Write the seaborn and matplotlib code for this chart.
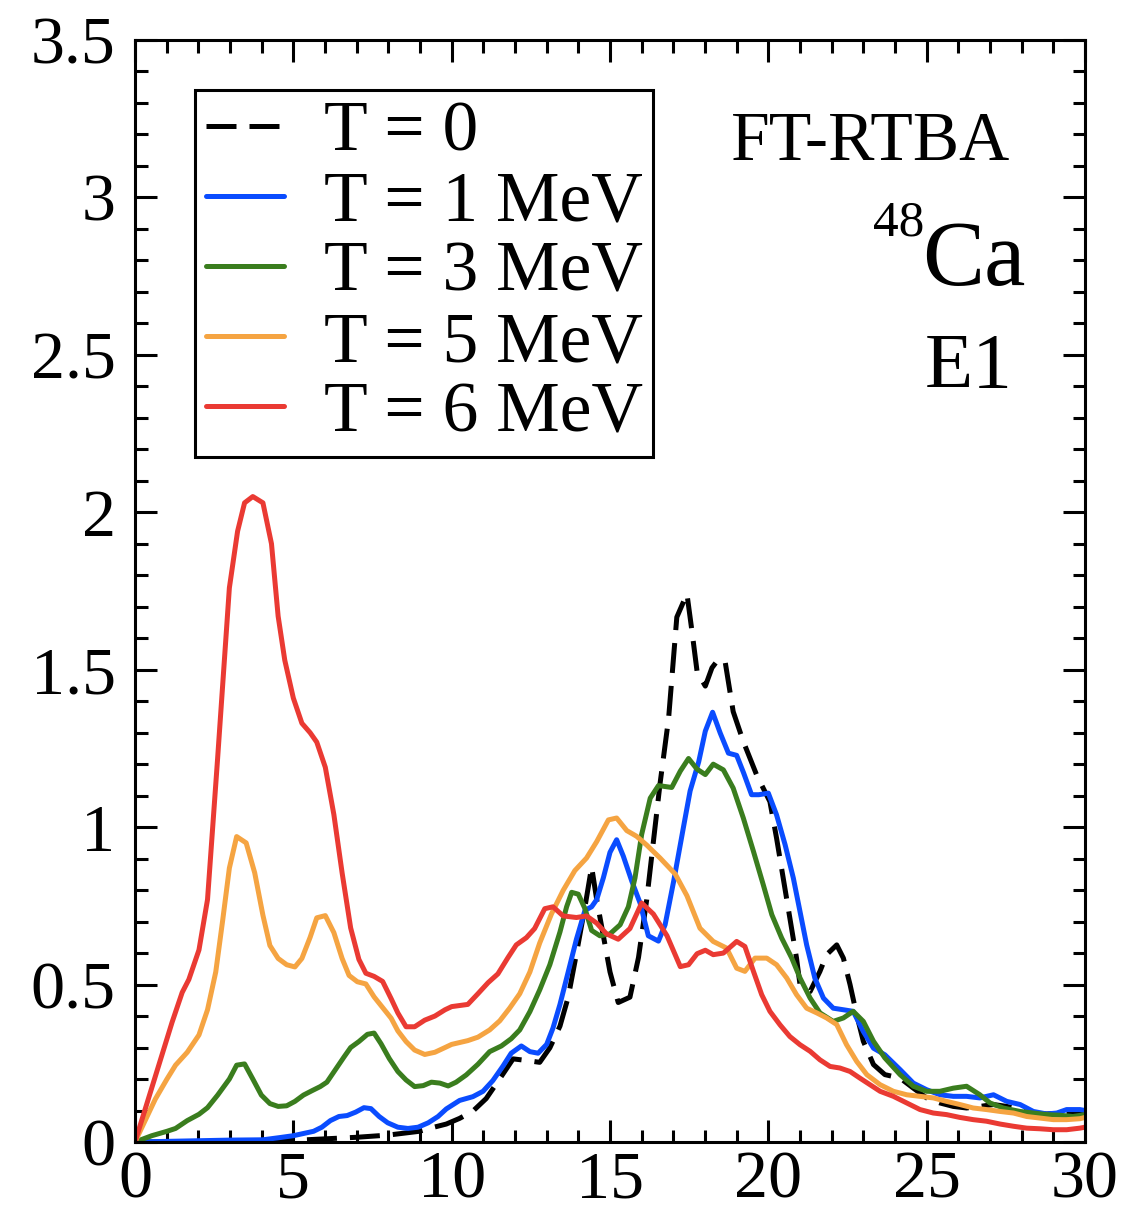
import numpy as np
import pandas as pd
import matplotlib
matplotlib.use("Agg")
import matplotlib.pyplot as plt
from matplotlib.ticker import MultipleLocator, FormatStrFormatter
import seaborn as sns

# strength function of 48Ca E1
e_t0 = [0, 2, 4, 5, 6, 7, 8, 8.98, 9.40, 9.83, 10.25, 10.67, 11.09, 11.52, 11.94, 12.36, 12.78, 13.10,
        13.42, 13.68, 13.94, 14.21, 14.42, 14.58, 14.79, 15.0, 15.26, 15.63, 15.90, 16.16, 16.37, 16.58,
        16.85, 17.11, 17.43, 17.59, 17.75, 18.01, 18.22, 18.43, 18.64, 18.89, 19.21, 19.63, 20.05, 20.26,
        20.47, 20.68, 20.89, 21.0, 21.32, 21.63, 21.84, 22.16, 22.37, 22.58, 22.79, 23.0, 23.32, 23.68,
        24.16, 24.58, 25.0, 25.42, 25.84, 26.26, 26.68, 27.11, 27.53, 27.95, 28.37, 28.79, 29.21, 29.63, 30.0]
s_t0 = [0, 0.0, 0.002, 0.005, 0.01, 0.015, 0.022, 0.034, 0.046, 0.057, 0.075, 0.098, 0.138, 0.201, 0.264,
        0.259, 0.253, 0.299, 0.368, 0.460, 0.598, 0.747, 0.874, 0.770, 0.655, 0.540, 0.443, 0.460, 0.586,
        0.770, 0.954, 1.138, 1.345, 1.667, 1.741, 1.621, 1.494, 1.448, 1.506, 1.534, 1.523, 1.367, 1.272,
        1.166, 1.081, 0.965, 0.838, 0.711, 0.584, 0.50, 0.478, 0.542, 0.595, 0.626, 0.584, 0.50, 0.404,
        0.32, 0.246, 0.214, 0.203, 0.171, 0.140, 0.124, 0.113, 0.108, 0.113, 0.119, 0.113, 0.103, 0.092,
        0.089, 0.092, 0.097, 0.097]

e_t1 = [0, 1, 2, 3, 4.04, 4.57, 5.0, 5.32, 5.64, 5.90, 6.17, 6.44, 6.70, 6.97, 7.23, 7.45, 7.71, 7.98,
        8.30, 8.62, 8.94, 9.26, 9.57, 9.83, 10.25, 10.67, 10.99, 11.30, 11.62, 11.88, 12.20, 12.47, 12.73,
        13.0, 13.20, 13.42, 13.68, 13.94, 14.21, 14.42, 14.58, 14.79, 15.0, 15.21, 15.42, 15.69, 15.95,
        16.21, 16.53, 16.74, 17.01, 17.32, 17.53, 17.80, 18.01, 18.24, 18.48, 18.74, 19.0, 19.22, 19.47,
        19.70, 20.0, 20.26, 20.53, 20.79, 21.0, 21.21, 21.47, 21.74, 22.05, 22.37, 22.68, 23.0, 23.32,
        23.68, 24.16, 24.58, 25.0, 25.42, 25.84, 26.26, 26.68, 27.11, 27.53, 27.95, 28.37, 28.79, 29.11,
        29.42, 29.84, 30.0]
s_t1 = [0, 0.002, 0.004, 0.006, 0.007, 0.014, 0.02, 0.027, 0.034, 0.047, 0.068, 0.081, 0.084, 0.095,
        0.109, 0.106, 0.081, 0.061, 0.047, 0.043, 0.047, 0.061, 0.081, 0.105, 0.132, 0.144, 0.161, 0.195,
        0.241, 0.282, 0.305, 0.287, 0.282, 0.310, 0.362, 0.437, 0.540, 0.644, 0.736, 0.747, 0.770, 0.839,
        0.920, 0.960, 0.908, 0.828, 0.759, 0.655, 0.638, 0.690, 0.828, 1.0, 1.115, 1.207, 1.305, 1.365,
        1.299, 1.235, 1.228, 1.172, 1.103, 1.103, 1.108, 1.039, 0.944, 0.838, 0.732, 0.626, 0.52, 0.457,
        0.425, 0.42, 0.415, 0.351, 0.298, 0.277, 0.230, 0.187, 0.166, 0.150, 0.145, 0.145, 0.140, 0.150,
        0.129, 0.119, 0.097, 0.089, 0.092, 0.103, 0.103, 0.10]

e_t3 = [0, 0.53, 1.01, 1.28, 1.65, 2.02, 2.29, 2.61, 2.98, 3.21, 3.46, 3.72, 3.99, 4.26, 4.52, 4.79, 5.05,
        5.32, 5.59, 5.85, 6.06, 6.33, 6.60, 6.81, 7.07, 7.34, 7.55, 7.77, 8.03, 8.30, 8.56, 8.83, 9.10,
        9.36, 9.63, 9.89, 10.14, 10.46, 10.83, 11.20, 11.57, 11.88, 12.15, 12.47, 12.78, 13.10, 13.42,
        13.63, 13.79, 14.0, 14.21, 14.42, 14.68, 15.0, 15.32, 15.58, 15.79, 16.0, 16.27, 16.53, 16.95,
        17.22, 17.48, 17.75, 18.01, 18.26, 18.58, 18.89, 19.21, 19.53, 19.84, 20.11, 20.42, 20.74, 21.0,
        21.32, 21.63, 22.05, 22.37, 22.68, 23.0, 23.32, 23.68, 24.16, 24.58, 25.0, 25.42, 25.84, 26.26,
        26.68, 27.0, 27.42, 27.95, 28.37, 28.79, 29.21, 29.63, 30.0]
s_t3 = [0, 0.02, 0.034, 0.043, 0.068, 0.088, 0.109, 0.149, 0.20, 0.244, 0.248, 0.20, 0.149, 0.122, 0.113,
        0.115, 0.129, 0.149, 0.163, 0.176, 0.19, 0.23, 0.27, 0.30, 0.319, 0.342, 0.346, 0.312, 0.265,
        0.224, 0.197, 0.176, 0.179, 0.19, 0.187, 0.178, 0.190, 0.213, 0.247, 0.287, 0.305, 0.328, 0.356,
        0.414, 0.483, 0.563, 0.667, 0.747, 0.793, 0.787, 0.741, 0.672, 0.655, 0.661, 0.690, 0.747, 0.839,
        0.977, 1.092, 1.132, 1.126, 1.178, 1.218, 1.184, 1.167, 1.200, 1.182, 1.124, 1.029, 0.923, 0.817,
        0.722, 0.648, 0.584, 0.521, 0.457, 0.41, 0.383, 0.394, 0.415, 0.383, 0.32, 0.267, 0.214, 0.177,
        0.161, 0.161, 0.171, 0.177, 0.150, 0.124, 0.108, 0.097, 0.092, 0.087, 0.085, 0.081, 0.087]

e_t5 = [0, 0.64, 1.01, 1.28, 1.65, 2.02, 2.29, 2.55, 2.77, 2.98, 3.21, 3.51, 3.78, 4.04, 4.26, 4.52, 4.79,
        5.05, 5.27, 5.53, 5.74, 6.01, 6.28, 6.54, 6.76, 7.02, 7.29, 7.55, 7.82, 8.09, 8.30, 8.56, 8.83,
        9.15, 9.47, 9.79, 10.0, 10.51, 10.83, 11.20, 11.52, 11.83, 12.15, 12.47, 12.78, 13.15, 13.52,
        13.89, 14.26, 14.58, 14.95, 15.21, 15.53, 15.84, 16.16, 16.58, 17.06, 17.43, 17.84, 18.26, 18.68,
        19.0, 19.26, 19.58, 19.95, 20.26, 20.58, 20.89, 21.21, 21.53, 21.84, 22.16, 22.47, 22.79, 23.11,
        23.53, 23.95, 24.37, 24.79, 25.21, 25.63, 26.05, 26.47, 26.89, 27.32, 27.74, 28.16, 28.58, 29.0,
        29.42, 29.84, 30.0]
s_t5 = [0, 0.136, 0.20, 0.244, 0.285, 0.34, 0.42, 0.54, 0.705, 0.87, 0.97, 0.95, 0.855, 0.72, 0.624,
        0.583, 0.563, 0.556, 0.583, 0.65, 0.712, 0.719, 0.665, 0.583, 0.529, 0.509, 0.502, 0.461, 0.427,
        0.393, 0.353, 0.319, 0.292, 0.278, 0.285, 0.30, 0.31, 0.322, 0.333, 0.356, 0.385, 0.425, 0.471,
        0.54, 0.632, 0.724, 0.799, 0.862, 0.902, 0.954, 1.023, 1.029, 0.989, 0.971, 0.943, 0.902, 0.851,
        0.782, 0.679, 0.637, 0.616, 0.552, 0.542, 0.584, 0.584, 0.563, 0.521, 0.468, 0.425, 0.41, 0.394,
        0.373, 0.309, 0.256, 0.214, 0.182, 0.161, 0.150, 0.145, 0.140, 0.129, 0.119, 0.108, 0.103, 0.097,
        0.092, 0.081, 0.076, 0.071, 0.071, 0.074, 0.078]

e_t6 = [0, 1.17, 1.49, 1.70, 2.02, 2.29, 2.61, 2.98, 3.24, 3.46, 3.72, 4.04, 4.31, 4.52, 4.73, 5.0, 5.27,
        5.53, 5.74, 6.01, 6.28, 6.54, 6.81, 7.07, 7.29, 7.55, 7.82, 8.09, 8.30, 8.56, 8.83, 9.15, 9.47,
        9.79, 10.0, 10.51, 10.83, 11.15, 11.46, 11.78, 12.04, 12.36, 12.62, 12.94, 13.20, 13.52, 13.94,
        14.26, 14.58, 14.89, 15.26, 15.63, 16.0, 16.37, 16.80, 17.22, 17.48, 17.75, 18.01, 18.26, 18.58,
        19.0, 19.26, 19.53, 19.79, 20.05, 20.37, 20.68, 21.0, 21.32, 21.63, 21.95, 22.26, 22.58, 22.89,
        23.21, 23.53, 23.95, 24.37, 24.79, 25.21, 25.63, 26.05, 26.47, 26.89, 27.32, 27.74, 28.16, 28.58,
        29.0, 29.42, 29.84, 30.0]
s_t6 = [0, 0.38, 0.475, 0.516, 0.61, 0.77, 1.22, 1.76, 1.94, 2.03, 2.05, 2.03, 1.90, 1.67, 1.53, 1.41,
        1.33, 1.30, 1.27, 1.19, 1.04, 0.855, 0.68, 0.58, 0.536, 0.526, 0.51, 0.455, 0.41, 0.366, 0.366,
        0.387, 0.40, 0.42, 0.43, 0.437, 0.471, 0.506, 0.534, 0.586, 0.626, 0.649, 0.678, 0.741, 0.747,
        0.718, 0.713, 0.718, 0.695, 0.661, 0.644, 0.678, 0.759, 0.724, 0.655, 0.557, 0.563, 0.598, 0.609,
        0.595, 0.60, 0.637, 0.621, 0.542, 0.468, 0.415, 0.372, 0.335, 0.309, 0.288, 0.261, 0.240, 0.235,
        0.224, 0.203, 0.182, 0.161, 0.145, 0.124, 0.103, 0.092, 0.087, 0.078, 0.071, 0.066, 0.057, 0.050,
        0.044, 0.042, 0.039, 0.039, 0.044, 0.047]

labels = ["T = 0", "T = 1 MeV", "T = 3 MeV", "T = 5 MeV", "T = 6 MeV"]
colors = ["black", "#0a4cff", "#3a7d1e", "#f5a442", "#ea3a33"]
series = [(e_t0, s_t0), (e_t1, s_t1), (e_t3, s_t3), (e_t5, s_t5), (e_t6, s_t6)]

sns.set_theme(style="ticks")
plt.rcParams['font.family'] = ['Liberation Serif', 'DejaVu Serif']
plt.rcParams['text.color'] = 'black'
plt.rcParams['xtick.color'] = 'black'
plt.rcParams['ytick.color'] = 'black'
plt.rcParams['axes.edgecolor'] = 'black'

fig = plt.figure(figsize=(11.23, 12.17), dpi=100)
ax = fig.add_axes([135 / 1123, 75 / 1217, 950 / 1123, 1102 / 1217])

for (e, s), lab, col in zip(series, labels, colors):
    df = pd.DataFrame({"E": e, "S": s})
    ls = (0, (6, 2.6)) if lab == "T = 0" else "-"
    sns.lineplot(data=df, x="E", y="S", ax=ax, color=col, linewidth=3.6,
                 linestyle=ls, label=lab, estimator=None)

ax.set_xlim(0, 30)
ax.set_ylim(0, 3.5)
ax.set_xlabel("")
ax.set_ylabel("")
ax.xaxis.set_major_locator(MultipleLocator(5))
ax.xaxis.set_minor_locator(MultipleLocator(1))
ax.yaxis.set_major_locator(MultipleLocator(0.5))
ax.yaxis.set_minor_locator(MultipleLocator(0.1))
ax.yaxis.set_major_formatter(FormatStrFormatter('%g'))
ax.tick_params(which='both', direction='in', top=True, right=True, width=2.2, colors='black')
ax.tick_params(which='major', length=15.5, labelsize=49)
ax.tick_params(which='minor', length=9)
ax.tick_params(axis='y', which='major', pad=14)
ax.tick_params(axis='x', which='major', pad=6)
for sp in ax.spines.values():
    sp.set_linewidth(2.2)
    sp.set_color('black')

leg = ax.legend(loc='upper left', bbox_to_anchor=(60 / 950, 1052 / 1102), borderaxespad=0,
                fontsize=51.5, frameon=True, fancybox=False, edgecolor='black', framealpha=1,
                handlelength=1.1, handletextpad=0.55, labelspacing=0.07, borderpad=0.15)
leg.get_frame().set_linewidth(2.2)
for t in leg.get_texts():
    t.set_color('black')

ax.text(0.921, 0.891, "FT-RTBA", transform=ax.transAxes, ha='right', va='baseline', fontsize=50, color='black')
ax.text(0.937, 0.778, "Ca", transform=ax.transAxes, ha='right', va='baseline', fontsize=67, color='black')
ax.text(0.777, 0.823, "48", transform=ax.transAxes, ha='left', va='baseline', fontsize=37, color='black')
ax.text(0.924, 0.685, "E1", transform=ax.transAxes, ha='right', va='baseline', fontsize=57, color='black')

fig.savefig("out.png", dpi=100)
